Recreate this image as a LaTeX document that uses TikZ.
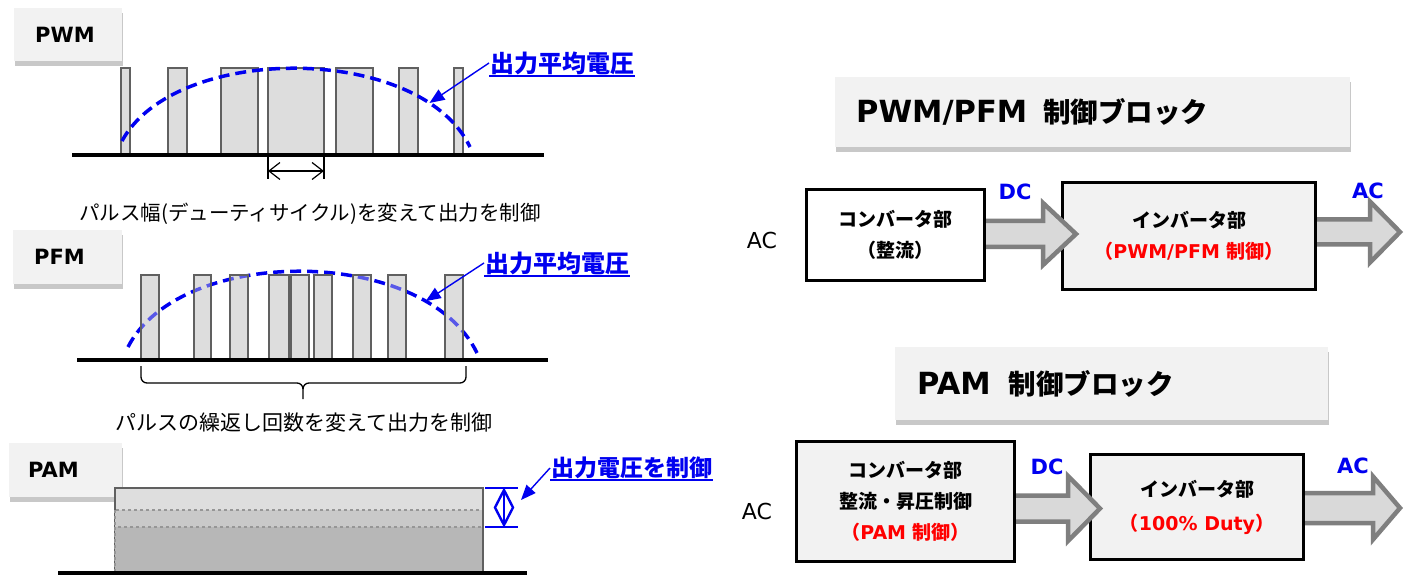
\documentclass[tikz,border=0pt]{standalone}
\usepackage{fontspec}
\setmainfont{DejaVu Sans}
\newfontfamily\jp{Noto Sans CJK JP}
\newfontfamily\vd{DejaVu Sans}
\usetikzlibrary{shadows,arrows.meta,calc}
\pgfdeclarelayer{paper}
\pgfdeclarelayer{under}
\pgfdeclarelayer{over}
\pgfsetlayers{paper,under,main,over}
\definecolor{boxgray}{HTML}{F2F2F2}
\definecolor{pfill}{HTML}{DDDDDD}
\definecolor{pdraw}{HTML}{606060}
\definecolor{cblue}{RGB}{0,0,240}
\definecolor{cred}{RGB}{255,0,0}
\definecolor{afill}{HTML}{D9D9D9}
\definecolor{adraw}{HTML}{7F7F7F}
\definecolor{pamA}{HTML}{DEDEDE}
\definecolor{pamB}{HTML}{C9C9C9}
\definecolor{pamC}{HTML}{B7B7B7}
\definecolor{dashgray}{HTML}{969696}
\newcommand\fs[1]{\fontsize{#1}{#1}\selectfont}
\newcommand\barrow[5]{\filldraw[blockarr] let \p1=#1, \p2=#2 in
  (\x1,\y2+#4pt) -- (\x2-#3pt,\y2+#4pt) -- (\x2-#3pt,\y2+#5pt) -- (\x2,\y2)
  -- (\x2-#3pt,\y2-#5pt) -- (\x2-#3pt,\y2-#4pt) -- (\x1,\y2-#4pt) -- cycle;}
\begin{document}
\begin{tikzpicture}[x=1pt,y=-1pt,
  tagbox/.style={fill=boxgray, anchor=north west, inner ysep=0pt, align=left,
    drop shadow={shadow xshift=1pt, shadow yshift=-5pt, opacity=0.3, fill=black!70},
    font=\vd\bfseries\fs{21}},
  titlebox/.style={fill=boxgray, anchor=north west, inner ysep=0pt, align=left,
    drop shadow={shadow xshift=1pt, shadow yshift=-5pt, opacity=0.3, fill=black!70},
    font=\vd\bfseries\fs{30.5}},
  pulse/.style={fill=pfill, draw=pdraw, line width=2.5pt},
  baseln/.style={line width=4pt, black},
  vcurve/.style={cblue, line width=3.5pt, dash pattern=on 11pt off 6pt},
  bluelbl/.style={text=cblue, font=\jp\bfseries\fs{24}, inner sep=1pt},
  uline/.style={cblue, line width=2.2pt},
  pointer/.style={cblue, line width=1.4pt, -{Triangle[length=15pt,width=12pt]}},
  note/.style={font=\jp\fs{20.5}, inner sep=0pt},
  brace/.style={black, line width=1.3pt},
  blk/.style={draw=black, line width=3pt, font=\jp\bfseries\fontsize{19}{31}\selectfont,
    align=center, anchor=north west, inner sep=0pt},
  blockarr/.style={fill=afill, draw=adraw, line width=4.5pt, line join=miter},
  sig/.style={text=cblue, font=\vd\bfseries\fs{21}, inner sep=0pt},
  acin/.style={font=\vd\fs{22}, inner sep=0pt},
]
\begin{pgfonlayer}{paper}
\fill[white] (0,0) rectangle (1407,577);
\end{pgfonlayer}
\useasboundingbox (0,0) rectangle (1407,577);

% ---------------- PWM ----------------
\node[tagbox, minimum width=108, minimum height=53, text width=66, inner xsep=21] (pwmtag) at (14,8) {PWM};
\foreach \a/\b in {121/130,168/187,221/258,268/324,336/373,399/418,454/463}
  \draw[pulse] (\a,68) rectangle (\b,155);
\draw[vcurve] (122,141) .. controls (175,43) and (420,43) .. (470,147) coordinate[pos=0.83] (pwmtip);
\draw[baseln] (72,155) -- (544,155);
\node[bluelbl, anchor=west] (pwmlbl) at (489,63) {出力平均電圧};
\draw[uline] (pwmlbl.south west) -- (pwmlbl.south east);
\draw[pointer] (pwmlbl.west) -- (pwmtip);
\coordinate (wl) at (268,171);
\coordinate (wr) at (324,171);
\draw[line width=1.2pt] (268,157) -- (268,179) (324,157) -- (324,179);
\draw[line width=1.2pt, {Straight Barb[length=11pt,width=17pt]}-{Straight Barb[length=11pt,width=17pt]}] (wl) -- (wr);
\node[note] (pwmnote) at (310,214) {パルス幅(デューティサイクル)を変えて出力を制御};

% ---------------- PFM ----------------
\node[tagbox, minimum width=109, minimum height=54, text width=67, inner xsep=21] (pfmtag) at (13,230) {PFM};
\draw[vcurve] (128,347) .. controls (180,245) and (425,245) .. (477,353) coordinate[pos=0.8] (pfmtip);
\foreach \a/\b in {141/159,194/211,230/248,269/289,291/309,314/332,353/371,388/406,445/463}
  \draw[pulse] (\a,275) rectangle (\b,360);
\begin{scope}
  \clip (142,276) rectangle (158,359) (195,276) rectangle (210,359) (231,276) rectangle (247,359)
        (270,276) rectangle (288,359) (292,276) rectangle (308,359) (315,276) rectangle (331,359)
        (354,276) rectangle (370,359) (389,276) rectangle (405,359) (446,276) rectangle (462,359);
  \draw[vcurve, opacity=0.6] (128,347) .. controls (180,245) and (425,245) .. (477,353);
\end{scope}
\draw[baseln] (77,360) -- (548,360);
\node[bluelbl, anchor=west] (pfmlbl) at (484,263) {出力平均電圧};
\draw[uline] (pfmlbl.south west) -- (pfmlbl.south east);
\draw[pointer] (pfmlbl.west) -- (pfmtip);
\draw[brace] (141,366) -- (141,377) to[out=-90,in=180] (147,383) -- (297,383) to[out=0,in=90] (303,389) -- (303,399);
\draw[brace] (466,366) -- (466,377) to[out=-90,in=0] (460,383) -- (309,383) to[out=180,in=90] (303,389);
\node[note, font=\jp\fs{21}] (pfmnote) at (304,423) {パルスの繰返し回数を変えて出力を制御};

% ---------------- PAM ----------------
\node[tagbox, minimum width=113, minimum height=54, text width=75, inner xsep=19] (pamtag) at (9,443) {PAM};
\draw[fill=pamA, draw=pdraw, line width=2.2pt] (115,488) rectangle (483,573);
\draw[fill=pamB, draw=dashgray, line width=2pt, dashed] (115,510) rectangle (483,573);
\draw[fill=pamC, draw=dashgray, line width=2pt, dashed] (115,527) rectangle (483,573);
\draw[draw=pdraw, line width=2.2pt] (483,487) -- (483,573);
\draw[baseln] (58,573) -- (527,573);
\draw[cblue, line width=2.8pt] (485,488) -- (518,488) (485,527) -- (518,527);
\coordinate (pamhi) at (504,489);
\coordinate (pamlo) at (504,526);
\draw[cblue, line width=2.4pt] (pamhi) -- (pamlo);
\draw[cblue, line width=2.4pt, line join=miter] (504,490) -- (513,507.5) -- (504,525) -- (495,507.5) -- cycle;
\node[bluelbl, anchor=west, font=\jp\bfseries\fs{23}] (pamlbl) at (550,468) {出力電圧を制御};
\draw[uline] (pamlbl.south west) -- (pamlbl.south east);
\coordinate (pamtip) at (521,500);
\draw[pointer] (pamlbl.west) -- (pamtip);

% ---------------- PWM/PFM block ----------------
\node[titlebox, minimum width=515, minimum height=70, text width=473, inner xsep=21] (title1) at (835,77)
  {PWM/PFM\hspace{16pt}{\jp\fs{27.5}制御ブロック}};
\node[acin] (acin1) at (762,240) {AC};
\node[blk, minimum width=253, minimum height=107, fill=boxgray] (inv1) at (1061,181)
  {インバータ部\\\textcolor{cred}{（{\vd PWM/PFM }制御）}};
\begin{pgfonlayer}{over}
\node[blk, minimum width=178, minimum height=91, fill=white] (conv1) at (805,188)
  {コンバータ部\\（整流）};
\end{pgfonlayer}
\coordinate (out1) at (1400,232);
\begin{pgfonlayer}{under}
\barrow{($(inv1.east)+(-15,0)$)}{(out1)}{30}{12.5}{30.5}
\end{pgfonlayer}
\barrow{($(conv1.east)+(-8,0)$)}{($(inv1.west |- conv1.east)+(15,-1)$)}{33}{13}{31}
\node[sig] (dc1) at (1015,192) {DC};
\node[sig] (ac1) at (1368,191) {AC};

% ---------------- PAM block ----------------
\node[titlebox, minimum width=433, minimum height=73, text width=389, inner xsep=22] (title2) at (895,347)
  {PAM\hspace{18pt}{\jp\fs{27.5}制御ブロック}};
\node[acin] (acin2) at (757,511) {AC};
\coordinate (out2) at (1400,508);
\node[blk, minimum width=213, minimum height=105, fill=boxgray] (inv2) at (1089,453)
  {インバータ部\\[3pt]\textcolor{cred}{（{\vd 100\% Duty}）}};
\begin{pgfonlayer}{under}
\barrow{($(inv2.east)+(-12,0)$)}{(out2)}{27}{15}{31.5}
\end{pgfonlayer}
\begin{pgfonlayer}{over}
\node[blk, minimum width=218, minimum height=120, fill=boxgray] (conv2) at (795,440)
  {コンバータ部\\整流・昇圧制御\\\textcolor{cred}{（{\vd PAM }制御）}};
\end{pgfonlayer}
\barrow{($(conv2.east)+(-8,0)$)}{($(inv2.west)+(11,1.5)$)}{32}{13}{32.5}
\node[sig] (dc2) at (1047,467) {DC};
\node[sig] (ac2) at (1353,466) {AC};
\end{tikzpicture}
\end{document}
